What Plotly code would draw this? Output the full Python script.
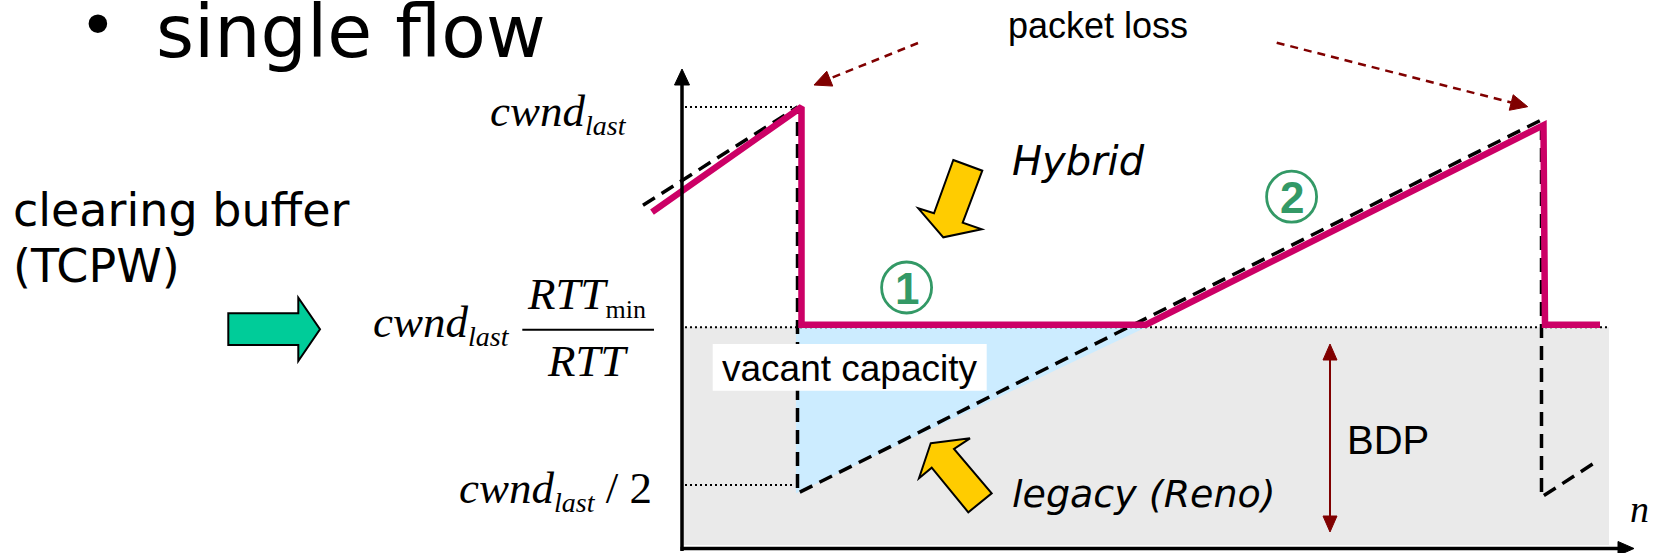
import math
import plotly.graph_objects as go

# values: n in RTT rounds, cwnd in % of cwnd_last
reno_n = [-3.9, 11.55, 11.55, 85.95, 85.95, 91.45]
reno_w = [87.0, 100.0, 48.9, 98.3, 48.4, 53.1]

hybrid_n = [-3.0, 11.95, 11.95, 46.4, 86.15, 86.3, 91.8]
hybrid_w = [86.1, 100.0, 71.2, 71.2, 97.6, 71.2, 71.2]

vacant_n = [11.4, 46.4, 11.4]
vacant_w = [70.85, 70.85, 48.9]

level_w = [100.0, 70.85, 50.0]      # cwnd_last, cwnd_last*RTTmin/RTT, cwnd_last/2
level_end = [11.2, 92.7, 11.2]
bdp_bottom = 42.05

phase_labels = ['1', '2']

# page -> data mapping (the sketch is drawn on a 1656x553 page)
W, H = 1656, 553
X0, SX = 682.0, 10.0
Y0, SY = 863.0, 7.56


def nx(px):
    return (px - X0) / SX


def wy(py):
    return (Y0 - py) / SY


def path(pts, close=True):
    s = 'M ' + ' L '.join('%.3f,%.3f' % (nx(x), wy(y)) for x, y in pts)
    return s + (' Z' if close else '')


def head(tip, frm, length, half):
    tx, ty = tip
    fx, fy = frm
    d = math.hypot(tx - fx, ty - fy)
    ux, uy = (tx - fx) / d, (ty - fy) / d
    bx, by = tx - ux * length, ty - uy * length
    return [(tx, ty), (bx - uy * half, by + ux * half), (bx + uy * half, by - ux * half)], (bx, by)


COMIC = 'Comic Sans MS, DejaVu Sans'
SANS = 'Liberation Sans, Arial'
SERIF = 'Liberation Serif, Times New Roman'
DARKRED = '#800000'
MAGENTA = '#CC0066'
GREEN = '#339966'

fig = go.Figure()

# vacant capacity triangle
fig.add_trace(go.Scatter(x=vacant_n, y=vacant_w, fill='toself', fillcolor='#CCECFF',
                         mode='lines', line=dict(width=0), hoverinfo='skip'))
# dotted reference levels
for w, e in zip(level_w, level_end):
    fig.add_trace(go.Scatter(x=[0.3, e], y=[w, w], mode='lines',
                             line=dict(color='black', width=2, dash='2px,3px'), hoverinfo='skip'))
# legacy (Reno)
fig.add_trace(go.Scatter(x=reno_n, y=reno_w, mode='lines',
                         line=dict(color='black', width=3.5, dash='14px,8px'), hoverinfo='skip'))
# hybrid
fig.add_trace(go.Scatter(x=hybrid_n, y=hybrid_w, mode='lines',
                         line=dict(color=MAGENTA, width=6.5), hoverinfo='skip'))

shapes = []
# BDP area
shapes.append(dict(type='rect', xref='x', yref='y', x0=0, x1=level_end[1], y0=bdp_bottom, y1=level_w[1],
                   fillcolor='#EAEAEA', line=dict(width=0), layer='below'))

# axes with arrow heads
shapes.append(dict(type='line', xref='x', yref='y', x0=0, x1=0, y0=wy(551), y1=wy(82),
                   line=dict(color='black', width=3.5), layer='above'))
pts, _ = head((682, 69), (682, 200), 16, 7.5)
shapes.append(dict(type='path', xref='x', yref='y', path=path(pts), fillcolor='black',
                   line=dict(color='black', width=1), layer='above'))
shapes.append(dict(type='line', xref='x', yref='y', x0=nx(680.5), x1=nx(1620), y0=wy(548.5), y1=wy(548.5),
                   line=dict(color='black', width=3.5), layer='above'))
pts, _ = head((1634, 548.5), (1500, 548.5), 16, 7)
shapes.append(dict(type='path', xref='x', yref='y', path=path(pts), fillcolor='black',
                   line=dict(color='black', width=1), layer='above'))

# packet loss pointers
for start, tip in [((918, 43), (814, 85)), ((1276.7, 42.7), (1527.7, 106.7))]:
    pts, base = head(tip, start, 17, 8)
    shapes.append(dict(type='line', xref='x', yref='y', x0=nx(start[0]), y0=wy(start[1]),
                       x1=nx(base[0]), y1=wy(base[1]),
                       line=dict(color=DARKRED, width=2.5, dash='8px,6px'), layer='above'))
    shapes.append(dict(type='path', xref='x', yref='y', path=path(pts), fillcolor=DARKRED,
                       line=dict(color=DARKRED, width=1), layer='above'))

# BDP double arrow
shapes.append(dict(type='line', xref='x', yref='y', x0=nx(1330), x1=nx(1330), y0=wy(358), y1=wy(518),
                   line=dict(color=DARKRED, width=2), layer='above'))
for tip, frm in [((1330, 344), (1330, 450)), ((1330, 532), (1330, 450))]:
    pts, _ = head(tip, frm, 16, 7)
    shapes.append(dict(type='path', xref='x', yref='y', path=path(pts), fillcolor=DARKRED,
                       line=dict(color=DARKRED, width=1), layer='above'))

# block arrows
hybrid_arrow = [(953.3, 160), (982.3, 170.7), (962.7, 222.7), (981.7, 229.3),
                (943.3, 237.3), (918.3, 208.3), (934, 213.3)]
legacy_arrow = [(930.7, 443.3), (970, 438.3), (954, 449), (991.7, 493.3),
                (968.3, 512.3), (931.7, 467.7), (919, 478.3)]
for poly in [hybrid_arrow, legacy_arrow]:
    shapes.append(dict(type='path', xref='x', yref='y', path=path(poly), fillcolor='#FFCC00',
                       line=dict(color='black', width=2), layer='above'))
green_arrow = [(228.3, 313.3), (298.3, 313.3), (298.3, 297.7), (320, 329.3),
               (298.3, 361), (298.3, 345), (228.3, 345)]
shapes.append(dict(type='path', xref='x', yref='y', path=path(green_arrow), fillcolor='#00CC99',
                   line=dict(color='black', width=2), layer='above'))

# phase circles
phase_centers = [(906.6, 287.5), (1291.6, 196.7)]
for cx, cy in phase_centers:
    shapes.append(dict(type='circle', xref='x', yref='y', x0=nx(cx - 25), x1=nx(cx + 25),
                       y0=wy(cy + 25.5), y1=wy(cy - 25.5),
                       line=dict(color=GREEN, width=2.8), layer='above'))

# fraction bar and label box
shapes.append(dict(type='line', xref='x', yref='y', x0=nx(522.3), x1=nx(654), y0=wy(329.8), y1=wy(329.8),
                   line=dict(color='black', width=2), layer='above'))
shapes.append(dict(type='rect', xref='x', yref='y', x0=nx(712.7), x1=nx(986.7), y0=wy(390.7), y1=wy(344),
                   fillcolor='white', line=dict(width=0), layer='above'))

ann = []


def label(text, x, base, size, family, anchor='left', color='black', k=0.345):
    ann.append(dict(x=nx(x), y=wy(base - k * size), xref='x', yref='y', text=text, showarrow=False,
                    xanchor=anchor, yanchor='middle', borderpad=0, borderwidth=0,
                    font=dict(family=family, size=size, color=color)))


label('•', 98, 26 + 0.345 * 64, 64, COMIC, anchor='center')
label('single flow', 156, 57, 73, COMIC)
label('clearing buffer', 13.4, 225.7, 46, COMIC)
label('(TCPW)', 13.4, 282, 46, COMIC)
label('<i>Hybrid</i>', 1011.7, 175, 40, COMIC)
label('<i>legacy (Reno)</i>', 1012.4, 506.7, 38, COMIC)
label('packet loss', 1007.7, 38.3, 36, SANS)
label('vacant capacity', 721.7, 381.7, 37, SANS)
label('BDP', 1346.5, 454, 40, SANS)
label('<i>n</i>', 1629.6, 521.7, 38, SERIF)

last = '<sub><span style="font-size:28px"><i>last</i></span></sub>'
label('<i>cwnd</i>' + last, 627, 128.7, 45, SERIF, anchor='right')
label('<i>cwnd</i>' + last, 372.8, 340.4, 45, SERIF)
label('<i>RTT</i><sub><span style="font-size:26px">min</span></sub>', 526.8, 312, 45, SERIF)
label('<i>RTT</i>', 546.9, 376.7, 45, SERIF)
label('<i>cwnd</i>' + last + ' / 2', 651.8, 506, 45, SERIF, anchor='right')

for (cx, cy), t in zip(phase_centers, phase_labels):
    label('<b>' + t + '</b>', cx + 0.5, cy + 16, 44, SANS, anchor='center', color=GREEN)

fig.update_layout(width=W, height=H, margin=dict(l=0, r=0, t=0, b=0),
                  paper_bgcolor='white', plot_bgcolor='white', showlegend=False,
                  hovermode=False, shapes=shapes, annotations=ann,
                  xaxis=dict(range=[nx(0), nx(W)], visible=False, fixedrange=True),
                  yaxis=dict(range=[wy(H), wy(0)], visible=False, fixedrange=True))

fig.write_html("out.html", config={'displayModeBar': False},
               post_script="document.body.style.margin='0';document.body.style.overflow='hidden';")
